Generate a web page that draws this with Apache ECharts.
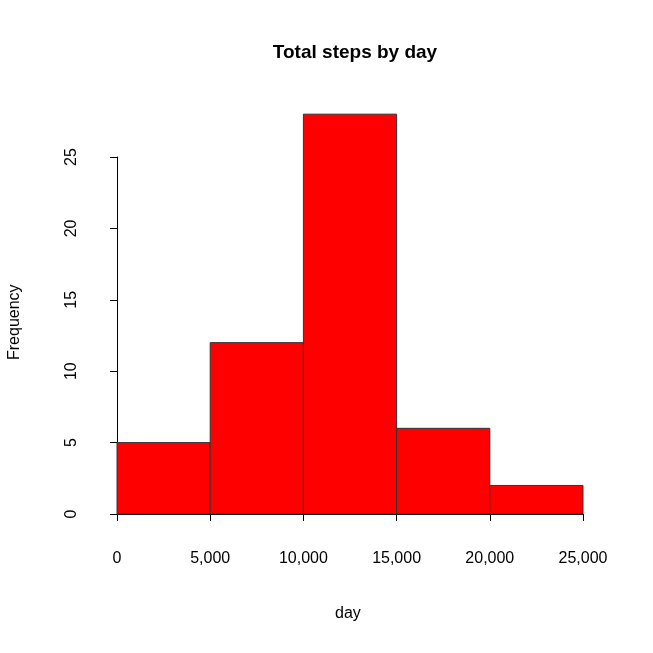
<!DOCTYPE html>
<html>
<head>
<meta charset="utf-8">
<script src="https://cdn.jsdelivr.net/npm/echarts@6/dist/echarts.min.js"></script>
<style>html,body{margin:0;padding:0;background:#fff}#c{width:653px;height:653px}</style>
</head>
<body>
<div id="c"></div>
<script>
// histogram bins and counts
var binStart = [0, 5000, 10000, 15000, 20000];
var binEnd = [5000, 10000, 15000, 20000, 25000];
var counts = [5, 12, 28, 6, 2];

var chart = echarts.init(document.getElementById('c'));
var data = [];
for (var i = 0; i < counts.length; i++) {
  data.push([binStart[i], binEnd[i], counts[i]]);
}
var font = 'Liberation Sans, Arial, sans-serif';

chart.setOption({
  animation: false,
  title: {
    text: 'Total steps by day', left: 350, top: 38, textAlign: 'center',
    textStyle: {fontFamily: font, fontSize: 19, fontWeight: 'bold', color: '#000'}
  },
  grid: {left: 117, right: 70, top: 157, bottom: 139},
  xAxis: {
    type: 'value', min: 0, max: 25000, interval: 5000, offset: 19,
    axisLine: {lineStyle: {color: '#000'}},
    axisTick: {length: 7, lineStyle: {color: '#000'}},
    splitLine: {show: false},
    axisLabel: {color: '#000', fontFamily: font, fontSize: 16, margin: 18}
  },
  yAxis: {
    type: 'value', min: 0, max: 25, interval: 5, offset: 19,
    axisLine: {show: true, lineStyle: {color: '#000'}},
    axisTick: {show: true, length: 7, lineStyle: {color: '#000'}},
    splitLine: {show: false},
    axisLabel: {color: '#000', fontFamily: font, fontSize: 16, rotate: 90, margin: 18}
  },
  graphic: [
    {type: 'text', left: 335, top: 606, style: {text: 'day', font: '16px ' + font, fill: '#000'}},
    {type: 'text', x: 7, y: 360, rotation: Math.PI / 2, style: {text: 'Frequency', font: '16px ' + font, fill: '#000'}}
  ],
  series: [{
    type: 'custom',
    clip: false,
    data: data,
    renderItem: function (params, api) {
      var p0 = api.coord([api.value(0), 0]);
      var p1 = api.coord([api.value(1), api.value(2)]);
      return {
        type: 'rect',
        shape: {x: p0[0], y: p1[1], width: p1[0] - p0[0], height: p0[1] - p1[1]},
        style: {fill: '#ff0000', stroke: '#333', lineWidth: 1}
      };
    }
  }]
});
</script>
</body>
</html>
